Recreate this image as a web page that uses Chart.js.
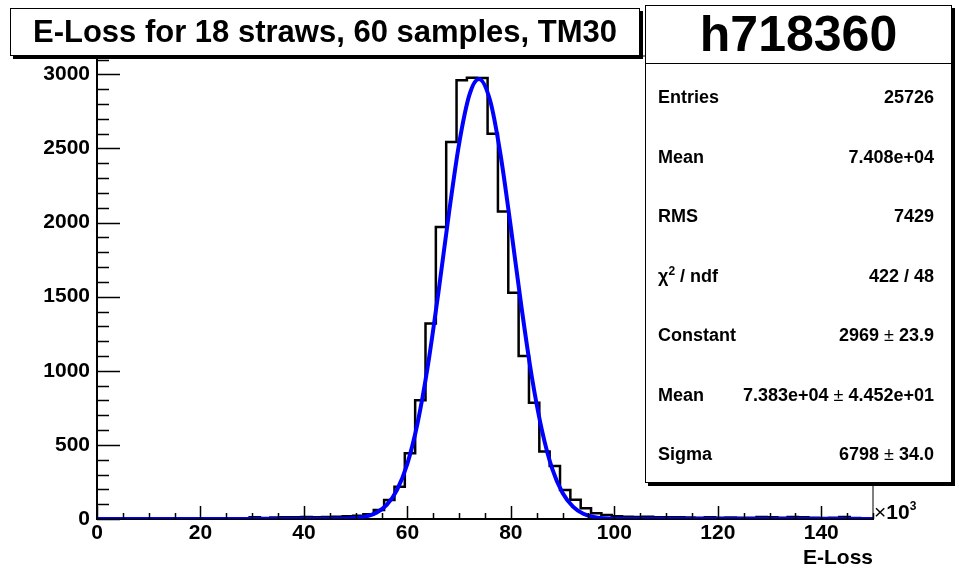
<!DOCTYPE html>
<html>
<head>
<meta charset="utf-8">
<script src="https://cdn.jsdelivr.net/npm/chart.js@4.4.0/dist/chart.umd.min.js"></script>
<style>
    body { margin: 0; background: #fff; font-family: "Liberation Sans", Arial, sans-serif; }
    #cadre { position: relative; width: 957px; height: 568px; }
    canvas { position: absolute; left: 0; top: 0; }
    .boite { position: absolute; background: #fff; border: 1px solid #000; box-shadow: 3px 3px 0 #000; box-sizing: border-box; }
    #titre { left: 10px; top: 8px; width: 630px; height: 48px; font-weight: bold; font-size: 31px; line-height: 46px; text-align: center; }
    #stats { left: 645px; top: 5px; width: 307px; height: 478px; }
    #stats .entete { height: 57px; border-bottom: 1px solid #000; font-weight: bold; font-size: 50px; line-height: 57px; text-align: center; }
    #stats .ligne { position: absolute; left: 12px; right: 17px; height: 22px; line-height: 22px; font-weight: bold; font-size: 18px; display: flex; justify-content: space-between; align-items: baseline; }
    #stats sup { font-size: 12px; line-height: 0; vertical-align: 7px; }
    .pm { font-weight: normal; }
    #titreX { position: absolute; right: 84px; top: 545px; font-weight: bold; font-size: 21px; line-height: 24px; }
    #puissance { position: absolute; left: 874px; top: 501px; font-size: 21px; line-height: 22px; }
    #puissance sup { font-size: 12px; line-height: 0; vertical-align: 9px; }
</style>
</head>
<body>
<div id="cadre">
    <canvas id="histoChart" width="957" height="568"></canvas>
    <div id="titre" class="boite">E-Loss for 18 straws, 60 samples, TM30</div>
    <div id="stats" class="boite">
        <div class="entete">h718360</div>
    </div>
    <div id="titreX">E-Loss</div>
    <div id="puissance">×<b>10<sup>3</sup></b></div>
</div>
<script>
// Histogramme : bins de 2 (x10^3), premier bord a 1.5
const binDebut = 1.5;
const binLargeur = 2;
const comptages = [
    0, 0, 0, 0, 0, 0, 0, 0, 0, 0,
    1, 2, 3, 4, 12, 6, 10, 12, 11, 13,
    12, 14, 16, 18, 22, 32, 61, 128, 218, 443,
    802, 1319, 1971, 2544, 2960, 2978, 2975, 2600, 2075, 1527,
    1100, 785, 455, 358, 196, 130, 72, 38, 27, 18,
    16, 14, 15, 12, 11, 12, 10, 9, 11, 9,
    10, 8, 9, 13, 12, 8, 13, 11, 8, 7,
    9, 13, 6, 5, 3
];

// Courbe d'ajustement (gaussienne)
const ajustX = [0, 40, 44, 46, 48, 50, 52, 54, 56, 58, 60, 62, 64, 66, 68, 70, 72, 73.8, 76, 78, 80, 82, 84, 86, 88, 90, 92, 94, 96, 98, 100, 104, 150];
const ajustY = [0, 0, 0.3, 1, 2, 6, 17, 42, 95, 197, 374, 653, 1044, 1530, 2055, 2533, 2863, 2969, 2822, 2459, 1967, 1443, 970, 600, 338, 175, 84, 36, 14, 5, 2, 0, 0];

const graduationsX = [0, 20, 40, 60, 80, 100, 120, 140];
const graduationsY = [0, 500, 1000, 1500, 2000, 2500, 3000];

const statsLabels = ['Entries', 'Mean', 'RMS', 'χ<sup>2</sup> / ndf', 'Constant', 'Mean', 'Sigma'];
const statsValeurs = ['25726', '7.408e+04', '7429', '422 / 48', '2969 <span class="pm">±</span> 23.9', '7.383e+04 <span class="pm">±</span> 4.452e+01', '6798 <span class="pm">±</span> 34.0'];

function remplirStats() {
    const boite = document.getElementById('stats');
    statsLabels.forEach((lab, i) => {
        const div = document.createElement('div');
        div.className = 'ligne';
        div.style.top = (80 + i * 59.5) + 'px';
        div.innerHTML = `<span>${lab}</span><span>${statsValeurs[i]}</span>`;
        boite.appendChild(div);
    });
}

// petites graduations a l'interieur du cadre, facon ROOT
const graduationsRoot = {
    id: 'graduationsRoot',
    afterDraw(chart) {
        const { ctx, chartArea, scales } = chart;
        ctx.save();
        ctx.strokeStyle = '#000';
        ctx.lineWidth = 1;
        ctx.strokeRect(chartArea.left, chartArea.top, chartArea.right - chartArea.left, chartArea.bottom - chartArea.top);
        ctx.lineWidth = 1.5;
        ctx.beginPath();
        for (let v = 0; v <= 150; v += 5) {
            const px = Math.round(scales.x.getPixelForValue(v)) + 0.5;
            const long = v % 20 === 0 ? 13 : 6;
            ctx.moveTo(px, chartArea.bottom);
            ctx.lineTo(px, chartArea.bottom - long);
        }
        for (let v = 0; v <= 3100; v += 100) {
            const py = Math.round(scales.y.getPixelForValue(v)) + 0.5;
            const long = v % 500 === 0 ? 23 : 12;
            ctx.moveTo(chartArea.left, py);
            ctx.lineTo(chartArea.left + long, py);
        }
        ctx.stroke();
        ctx.restore();
    }
};

function creerGraphique() {
    const pointsHisto = comptages.map((c, i) => ({ x: binDebut + i * binLargeur, y: c }));
    pointsHisto.push({ x: binDebut + comptages.length * binLargeur, y: comptages[comptages.length - 1] });
    const pointsAjust = ajustX.map((x, i) => ({ x: x, y: ajustY[i] }));

    const policeTicks = { family: '"Liberation Sans", Arial, sans-serif', size: 21, weight: 'bold' };

    new Chart(document.getElementById('histoChart'), {
        type: 'line',
        data: {
            datasets: [
                {
                    label: 'fit',
                    data: pointsAjust,
                    borderColor: '#0000ff',
                    borderWidth: 4,
                    pointRadius: 0,
                    cubicInterpolationMode: 'monotone',
                    order: 0
                },
                {
                    label: 'h718360',
                    data: pointsHisto,
                    borderColor: '#000',
                    borderWidth: 2.5,
                    pointRadius: 0,
                    stepped: 'before',
                    order: 1
                }
            ]
        },
        options: {
            responsive: false,
            animation: false,
            layout: { padding: { left: 0, top: 56, right: 84, bottom: 0 } },
            plugins: {
                legend: { display: false },
                tooltip: { enabled: false },
                title: { display: false }
            },
            scales: {
                x: {
                    type: 'linear',
                    min: 0,
                    max: 150,
                    grid: { display: false, drawTicks: false },
                    border: { display: true, color: '#000', width: 2 },
                    afterBuildTicks: s => { s.ticks = graduationsX.map(v => ({ value: v })); },
                    afterFit: s => { s.height = 49; },
                    ticks: { color: '#000', font: policeTicks, padding: 2, maxRotation: 0, callback: v => String(v) }
                },
                y: {
                    type: 'linear',
                    min: 0,
                    max: 3124,
                    grid: { display: false, drawTicks: false },
                    border: { display: true, color: '#000', width: 2 },
                    afterBuildTicks: s => { s.ticks = graduationsY.map(v => ({ value: v })); },
                    afterFit: s => { s.width = 97; },
                    ticks: { color: '#000', font: policeTicks, padding: 7, callback: v => String(v) }
                }
            }
        },
        plugins: [graduationsRoot]
    });
}

document.addEventListener('DOMContentLoaded', function() {
    remplirStats();
    creerGraphique();
});
</script>
</body>
</html>
